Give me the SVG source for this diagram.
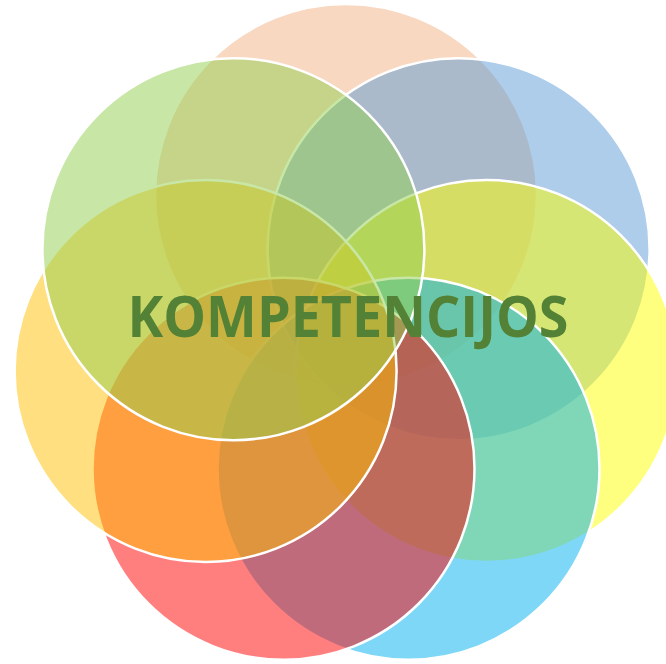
<svg xmlns="http://www.w3.org/2000/svg" width="666" height="664" viewBox="0 0 666 664">
  <style>
    .c { stroke: #FFFFFF; stroke-width: 2.5; fill-opacity: 0.5; }
    .t { font-family: "Open Sans", "Liberation Sans", sans-serif; font-weight: 700; font-size: 57px; fill: #538135; }
  </style>
  <rect width="666" height="664" fill="#FFFFFF"/>
  <g id="circle-peach"><circle class="c" cx="346" cy="195" r="191" fill="#F4B183"/></g>
  <g id="circle-blue"><circle class="c" cx="458.6" cy="249.2" r="191" fill="#5B9BD5"/></g>
  <g id="circle-yellow"><circle class="c" cx="486.4" cy="371" r="191" fill="#FFFF00"/></g>
  <g id="circle-lightblue"><circle class="c" cx="408.5" cy="468.7" r="191" fill="#00B0F0"/></g>
  <g id="circle-red"><circle class="c" cx="283.5" cy="468.7" r="191" fill="#FF0000"/></g>
  <g id="circle-gold"><circle class="c" cx="205.6" cy="371" r="191" fill="#FFC000"/></g>
  <g id="circle-green"><circle class="c" cx="233.4" cy="249.2" r="191" fill="#92D050"/></g>
  <g id="label">
    <text class="t" x="348" y="337" text-anchor="middle" textLength="441" lengthAdjust="spacingAndGlyphs">KOMPETENCIJOS</text>
  </g>
</svg>
